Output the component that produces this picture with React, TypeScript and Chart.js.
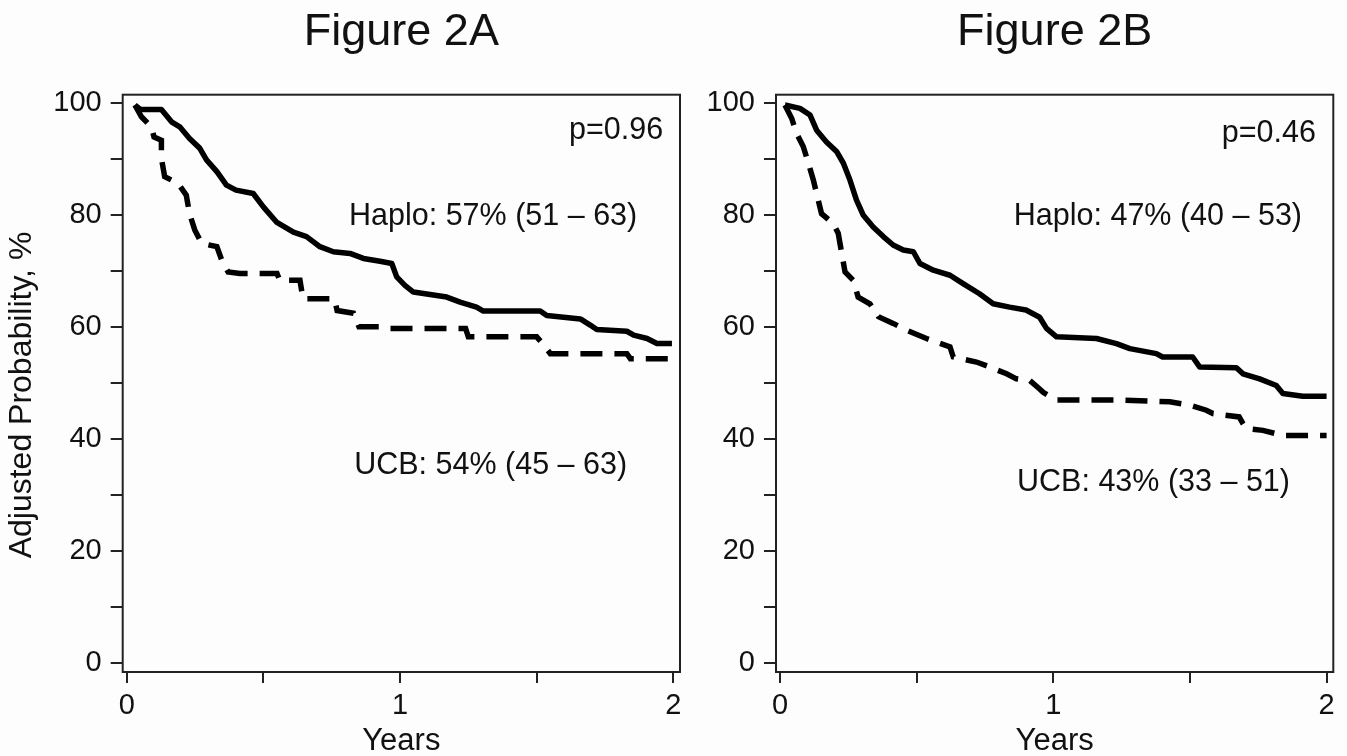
import React, { useEffect, useRef } from 'react';
import { Chart, registerables } from 'chart.js';

Chart.register(...registerables);

const FONT = "'Liberation Sans', Arial, Helvetica, sans-serif";
const INK = '#111';

// Axis ticks
const Y_TICKS = [0, 10, 20, 30, 40, 50, 60, 70, 80, 90, 100];
const X_TICKS = [0, 0.5, 1, 1.5, 2];
const Y_MIN = -1.55;
const Y_MAX = 101.54;
const X_MIN = -0.0146;
const X_MAX = 2.0245;

// Figure 2A — Haplo (solid)
const haploA_t = [0.03, 0.05, 0.127, 0.164, 0.194, 0.23, 0.267, 0.292, 0.33, 0.365, 0.4, 0.463, 0.5, 0.548, 0.61, 0.658, 0.707, 0.756, 0.817, 0.866, 0.927, 0.97, 0.988, 1.018, 1.049, 1.171, 1.22, 1.28, 1.305, 1.513, 1.537, 1.66, 1.696, 1.72, 1.83, 1.855, 1.904, 1.94, 1.995];
const haploA_y = [99.7, 98.9, 98.9, 96.7, 95.8, 93.7, 92.0, 89.9, 87.8, 85.4, 84.5, 83.9, 81.5, 78.8, 77.0, 76.2, 74.4, 73.5, 73.2, 72.3, 71.8, 71.4, 69.0, 67.5, 66.3, 65.4, 64.5, 63.6, 62.9, 62.9, 62.1, 61.5, 60.4, 59.6, 59.3, 58.6, 58.0, 57.1, 57.1];

// Figure 2A — UCB (dashed)
const ucbA_t = [0.03, 0.054, 0.09, 0.1, 0.127, 0.127, 0.139, 0.188, 0.218, 0.23, 0.249, 0.274, 0.33, 0.35, 0.371, 0.414, 0.55, 0.56, 0.634, 0.645, 0.76, 0.77, 0.83, 0.85, 0.93, 0.95, 1.24, 1.25, 1.5, 1.52, 1.55, 1.83, 1.843, 2.0];
const ucbA_y = [99.7, 97.6, 95.8, 94.0, 93.4, 90.2, 86.9, 85.7, 83.6, 80.3, 77.4, 75.0, 74.4, 71.7, 69.9, 69.6, 69.6, 68.4, 68.4, 65.1, 65.1, 63.0, 62.5, 60.1, 60.1, 59.8, 59.8, 58.3, 58.3, 57.2, 55.3, 55.3, 54.4, 54.4];

// Figure 2B — Haplo (solid)
const haploB_t = [0.018, 0.073, 0.11, 0.134, 0.17, 0.207, 0.232, 0.256, 0.28, 0.305, 0.341, 0.378, 0.414, 0.451, 0.488, 0.512, 0.561, 0.622, 0.67, 0.73, 0.78, 0.84, 0.9, 0.95, 0.975, 1.012, 1.158, 1.231, 1.28, 1.377, 1.4, 1.51, 1.536, 1.67, 1.694, 1.755, 1.816, 1.84, 1.913, 2.0];
const haploB_y = [99.7, 99.1, 97.9, 95.2, 93.1, 91.4, 89.3, 86.3, 82.7, 80.0, 77.9, 76.2, 74.7, 73.8, 73.5, 71.4, 70.2, 69.3, 67.8, 66.0, 64.2, 63.6, 63.1, 61.8, 59.8, 58.3, 58.0, 57.1, 56.2, 55.3, 54.7, 54.7, 52.9, 52.8, 51.7, 50.8, 49.6, 48.2, 47.7, 47.7];

// Figure 2B — UCB (dashed)
const ucbB_t = [0.018, 0.043, 0.061, 0.085, 0.104, 0.122, 0.14, 0.152, 0.195, 0.213, 0.226, 0.238, 0.268, 0.286, 0.329, 0.36, 0.414, 0.463, 0.536, 0.622, 0.634, 0.719, 0.768, 0.829, 0.865, 0.914, 0.95, 0.963, 1.012, 1.243, 1.426, 1.499, 1.56, 1.584, 1.68, 1.694, 1.706, 1.767, 1.84, 2.0];
const ucbB_y = [99.7, 97.3, 94.6, 92.3, 89.3, 86.3, 82.7, 80.3, 78.5, 76.8, 73.2, 69.9, 68.4, 65.4, 64.2, 61.9, 60.7, 59.5, 58.0, 56.5, 54.7, 53.8, 52.9, 51.7, 50.8, 50.5, 49.0, 48.4, 47.0, 47.0, 46.7, 46.1, 45.2, 44.6, 44.0, 42.8, 41.9, 41.6, 40.7, 40.7];

// Text labels
const titleA = 'Figure 2A';
const titleB = 'Figure 2B';
const yTitle = 'Adjusted Probability, %';
const xTitle = 'Years';
const notesA = [
  { text: 'p=0.96', x: 1.963, y: 93.6 },
  { text: 'Haplo: 57% (51 – 63)', x: 1.868, y: 78.3 },
  { text: 'UCB: 54% (45 – 63)', x: 1.831, y: 33.8 },
];
const notesB = [
  { text: 'p=0.46', x: 1.961, y: 93.1 },
  { text: 'Haplo: 47% (40 – 53)', x: 1.91, y: 78.3 },
  { text: 'UCB: 43% (33 – 51)', x: 1.866, y: 30.8 },
];

type Note = { text: string; x: number; y: number };
type Panel = {
  title: string;
  haploT: number[];
  haploY: number[];
  ucbT: number[];
  ucbY: number[];
  notes: Note[];
  width: number;
  yAxisWidth: number;
  padRight: number;
  showYTitle: boolean;
};

const toPts = (t: number[], y: number[]) => t.map((x, i) => ({ x, y: y[i] }));

function makeChart(canvas: HTMLCanvasElement, p: Panel) {
  const decor = {
    id: 'decor',
    beforeDatasetsDraw(chart: any) {
      const { ctx, chartArea } = chart;
      ctx.save();
      ctx.strokeStyle = '#222';
      ctx.lineWidth = 2;
      ctx.strokeRect(chartArea.left, chartArea.top, chartArea.right - chartArea.left, chartArea.bottom - chartArea.top);
      ctx.restore();
    },
    afterDraw(chart: any) {
      const { ctx, chartArea, scales } = chart;
      const cx = (chartArea.left + chartArea.right) / 2;
      ctx.save();
      ctx.fillStyle = INK;
      // title
      ctx.font = `45px ${FONT}`;
      ctx.textAlign = 'center';
      ctx.textBaseline = 'alphabetic';
      ctx.fillText(p.title, cx, 45);
      // x axis title
      ctx.font = `31px ${FONT}`;
      ctx.fillText(xTitle, cx, 750);
      // annotations
      ctx.font = `30.5px ${FONT}`;
      ctx.textAlign = 'right';
      for (const n of p.notes) {
        ctx.fillText(n.text, scales.x.getPixelForValue(n.x), scales.y.getPixelForValue(n.y));
      }
      // y title
      if (p.showYTitle) {
        ctx.translate(22, 395);
        ctx.rotate(-Math.PI / 2);
        ctx.textAlign = 'center';
        ctx.textBaseline = 'middle';
        ctx.font = `32px ${FONT}`;
        ctx.fillText(yTitle, 0, 0);
      }
      ctx.restore();
    },
  };

  return new Chart(canvas, {
    type: 'line',
    data: {
      datasets: [
        {
          label: 'Haplo',
          data: toPts(p.haploT, p.haploY),
          borderColor: '#000',
          borderWidth: 5.5,
          pointRadius: 0,
          tension: 0,
          fill: false,
          borderJoinStyle: 'round',
        },
        {
          label: 'UCB',
          data: toPts(p.ucbT, p.ucbY),
          borderColor: '#000',
          borderWidth: 5.5,
          pointRadius: 0,
          tension: 0,
          fill: false,
          borderDash: [22, 12],
          borderCapStyle: 'butt',
        },
      ],
    },
    options: {
      animation: false,
      responsive: false,
      devicePixelRatio: 1,
      layout: { padding: { top: 94.7, right: p.padRight, bottom: 0, left: 0 } },
      plugins: { legend: { display: false }, tooltip: { enabled: false } },
      scales: {
        x: {
          type: 'linear',
          min: X_MIN,
          max: X_MAX,
          afterBuildTicks: (s: any) => {
            s.ticks = X_TICKS.map((v) => ({ value: v }));
          },
          afterFit: (s: any) => {
            s.height = 84;
          },
          grid: { drawOnChartArea: false, drawTicks: true, tickLength: 11, color: '#222', lineWidth: 2 },
          border: { display: false },
          ticks: {
            autoSkip: false,
            maxRotation: 0,
            padding: 6,
            color: INK,
            font: { family: FONT, size: 29 },
            callback: (v: any) => (Number.isInteger(v) ? String(v) : ''),
          },
        },
        y: {
          type: 'linear',
          min: Y_MIN,
          max: Y_MAX,
          afterBuildTicks: (s: any) => {
            s.ticks = Y_TICKS.map((v) => ({ value: v }));
          },
          afterFit: (s: any) => {
            s.width = p.yAxisWidth;
          },
          grid: { drawOnChartArea: false, drawTicks: true, tickLength: 12, color: '#222', lineWidth: 2 },
          border: { display: false },
          ticks: {
            autoSkip: false,
            padding: 9,
            color: INK,
            font: { family: FONT, size: 29 },
            callback: (v: any) => (v % 20 === 0 ? String(v) : ''),
          },
        },
      },
    },
    plugins: [decor],
  } as any);
}

function PanelChart({ p, left }: { p: Panel; left: number }) {
  const ref = useRef<HTMLCanvasElement>(null);
  useEffect(() => {
    if (!ref.current) return;
    const c = makeChart(ref.current, p);
    return () => c.destroy();
  }, []);
  return (
    <canvas
      ref={ref}
      width={p.width}
      height={756}
      style={{ position: 'absolute', left, top: 0, width: p.width, height: 756 }}
    />
  );
}

export default function App() {
  const panelA: Panel = {
    title: titleA,
    haploT: haploA_t,
    haploY: haploA_y,
    ucbT: ucbA_t,
    ucbY: ucbA_y,
    notes: notesA,
    width: 700,
    yAxisWidth: 122.7,
    padRight: 20,
    showYTitle: true,
  };
  const panelB: Panel = {
    title: titleB,
    haploT: haploB_t,
    haploY: haploB_y,
    ucbT: ucbB_t,
    ucbY: ucbB_y,
    notes: notesB,
    width: 647,
    yAxisWidth: 76,
    padRight: 13.7,
    showYTitle: false,
  };
  return (
    <div style={{ position: 'fixed', left: 0, top: 0, width: 1347, height: 756, background: '#fdfdfd', overflow: 'hidden' }}>
      <PanelChart p={panelA} left={0} />
      <PanelChart p={panelB} left={700} />
    </div>
  );
}
